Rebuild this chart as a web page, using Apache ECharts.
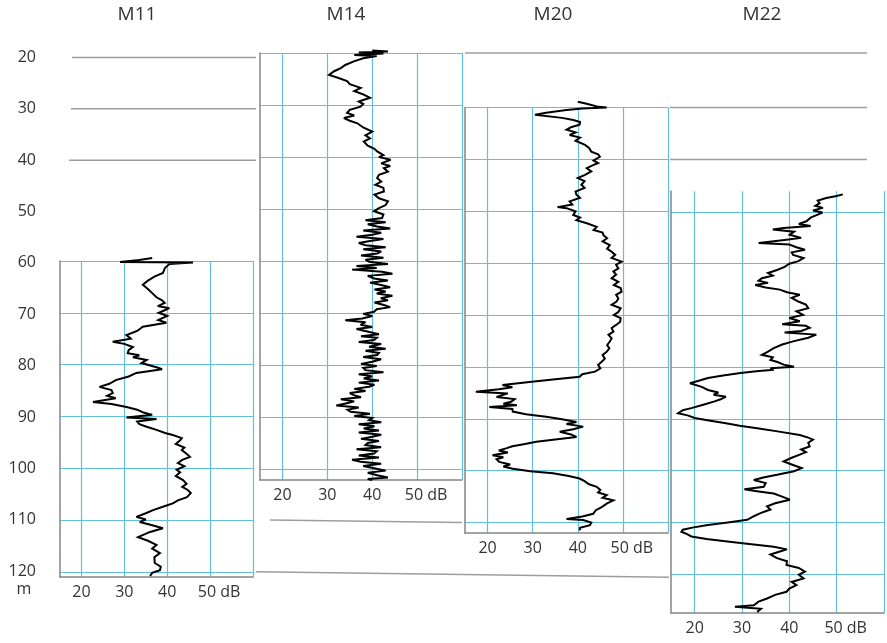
<!DOCTYPE html>
<html>
<head>
<meta charset="utf-8">
<script src="https://cdn.jsdelivr.net/npm/echarts@6/dist/echarts.min.js"></script>
<style>
  html, body { margin: 0; padding: 0; background: #fff; }
  #chart { width: 887px; height: 643px; }
</style>
</head>
<body>
<div id="chart"></div>
<script>
// Well names, in panel order
const wells = ['M11', 'M14', 'M20', 'M22'];

// Depth scale labels (m) of the shared left axis
const depthTicks = [20, 30, 40, 50, 60, 70, 80, 90, 100, 110, 120];

// Level scale (dB) tick labels under each panel
const levelTicks = [20, 30, 40, 50];

// Log readings per well: [depth m, level dB]
const m11Log = [
  [59.4,36.5],[59.8,33.5],[60.2,29.0],[60.3,46.0],[60.6,40.5],[61.3,39.5],[62.3,39.0],[63.0,37.0],
  [63.8,35.5],[64.6,34.3],[65.4,35.5],[66.2,36.5],[67.0,37.5],[67.6,38.8],[68.1,39.4],[68.7,37.8],
  [69.1,40.5],[69.5,39.4],[70.0,38.0],[70.6,40.0],[71.4,37.9],[71.9,39.8],[72.7,34.3],[73.5,33.0],
  [74.3,30.5],[75.0,31.5],[75.6,27.3],[76.0,30.0],[76.6,32.0],[77.2,31.0],[77.8,30.8],[78.2,33.5],
  [78.6,32.0],[79.1,35.2],[79.7,34.0],[80.5,37.5],[80.9,38.8],[81.6,32.8],[82.3,31.0],[83.0,28.0],
  [83.7,26.5],[84.3,24.2],[84.9,27.0],[85.5,27.3],[86.0,26.0],[86.5,28.0],[87.2,22.7],[87.6,27.0],
  [88.2,30.5],[88.7,33.0],[89.2,34.3],[89.7,36.5],[90.2,30.5],[90.5,37.5],[91.0,33.0],[91.5,33.5],
  [92.0,35.2],[92.6,37.5],[93.2,39.5],[93.6,41.3],[94.2,43.4],[94.6,43.0],[95.3,42.0],[96.0,44.0],
  [96.5,43.4],[97.2,44.5],[97.8,45.3],[98.4,43.5],[99.0,42.5],[99.6,44.0],[100.3,42.2],[100.8,43.0],
  [101.5,42.0],[102.3,43.7],[103.0,44.5],[103.6,43.5],[104.2,44.8],[104.8,45.5],[105.6,44.6],[106.2,42.5],
  [106.8,41.3],[107.3,39.5],[108.1,36.7],[108.7,35.0],[109.4,32.8],[109.9,35.0],[110.4,33.6],[111.0,36.5],
  [111.6,39.0],[112.3,36.0],[113.3,33.2],[114.0,35.5],[114.8,37.5],[115.5,36.5],[116.4,38.3],[117.2,37.0],
  [118.3,37.1],[119.0,38.5],[119.7,38.3],[120.2,36.5],[120.8,36.0]
];

const m14Log = [
  [19.5,40.0],[19.7,43.5],[19.9,37.0],[20.1,42.5],[20.4,36.0],[20.6,41.0],[21.0,38.0],[21.6,35.9],
  [22.3,34.0],[22.9,33.0],[23.5,31.5],[24.2,30.4],[24.8,32.5],[25.4,34.4],[26.0,35.0],[26.7,37.4],
  [27.3,36.0],[28.0,38.1],[28.6,39.5],[29.3,37.0],[29.8,38.0],[30.3,37.4],[30.9,35.0],[31.5,34.4],
  [32.0,36.0],[32.5,33.7],[33.0,35.0],[33.5,36.7],[34.3,38.0],[35.1,40.0],[35.8,38.5],[36.4,39.5],
  [37.0,38.1],[37.8,39.0],[38.4,40.5],[38.9,41.1],[39.6,42.5],[40.0,41.5],[40.5,44.1],[41.2,42.0],
  [41.7,44.0],[42.1,42.6],[42.8,43.5],[43.4,41.5],[44.0,41.1],[44.7,42.0],[45.3,40.7],[45.9,42.5],
  [46.6,42.6],[47.2,40.5],[47.9,41.5],[48.5,43.5],[49.2,43.0],[49.8,41.5],[50.4,40.4],[51.0,42.5],
  [51.7,42.2],[52.1,38.5],[52.5,43.0],[52.9,39.0],[53.3,41.1],[53.7,44.0],[54.1,38.0],[54.5,42.0],
  [54.9,40.0],[55.3,36.5],[55.7,42.5],[56.1,39.5],[56.5,37.0],[56.9,38.5],[57.3,43.0],[57.7,38.0],
  [58.1,42.0],[58.5,41.1],[58.9,37.5],[59.3,42.5],[59.7,38.5],[60.1,39.3],[60.5,43.5],[60.9,36.5],
  [61.3,41.0],[61.6,35.5],[62.0,42.2],[62.4,44.5],[62.8,39.0],[63.3,40.4],[63.7,43.5],[64.1,39.5],
  [64.6,42.2],[65.0,44.0],[65.4,40.5],[65.8,43.0],[66.2,41.0],[66.6,44.5],[67.1,41.9],[67.5,43.5],
  [67.9,40.5],[68.4,42.6],[68.8,44.0],[69.2,41.0],[69.7,40.4],[70.1,38.0],[70.5,40.0],[71.0,37.8],
  [71.3,34.0],[71.7,38.5],[72.2,37.4],[72.6,40.0],[73.0,36.5],[73.5,38.9],[74.0,41.5],[74.4,37.5],
  [74.7,41.0],[75.1,40.4],[75.5,37.0],[75.9,42.0],[76.4,39.3],[76.8,43.0],[77.2,38.5],[77.6,41.5],
  [78.0,41.1],[78.4,38.0],[78.8,42.0],[79.3,40.0],[79.7,37.5],[80.1,41.0],[80.5,38.0],[80.9,38.5],
  [81.3,42.5],[81.7,37.0],[82.1,40.0],[82.5,38.1],[82.9,41.5],[83.3,37.0],[83.7,40.5],[84.1,39.3],
  [84.5,36.0],[84.9,38.5],[85.3,35.0],[85.7,35.9],[86.1,37.5],[86.5,33.0],[86.9,36.0],[87.3,34.1],
  [87.7,32.0],[88.1,37.0],[88.5,34.5],[88.9,35.2],[89.3,39.5],[89.7,36.0],[90.1,40.0],[90.5,39.3],
  [90.9,42.0],[91.3,37.0],[91.7,40.5],[92.1,38.1],[92.5,41.5],[92.9,37.0],[93.3,42.0],[93.7,40.0],
  [94.1,37.5],[94.5,41.5],[94.9,39.0],[95.3,38.5],[95.7,42.0],[96.1,36.5],[96.5,41.0],[96.9,40.4],
  [97.3,37.0],[97.7,41.5],[98.1,35.5],[98.5,37.4],[98.9,42.0],[99.3,38.0],[99.8,40.7],[100.2,43.0],
  [100.6,39.0],[101.1,41.1],[101.5,43.5],[101.8,39.0],[102.0,40.0]
];

const m20Log = [
  [28.9,40.0],[29.2,41.5],[29.5,43.0],[29.8,44.2],[30.0,46.4],[30.2,41.0],[30.5,37.5],[31.0,33.0],
  [31.4,30.5],[31.7,30.8],[32.0,36.5],[32.4,39.0],[32.8,40.5],[33.3,40.4],[33.8,38.5],[34.3,37.5],
  [34.8,39.5],[35.3,38.2],[35.8,40.5],[36.4,39.5],[37.2,41.6],[37.8,42.5],[38.5,43.0],[39.0,44.5],
  [39.5,44.9],[40.2,43.5],[40.7,44.5],[41.1,43.4],[41.7,42.0],[42.3,43.0],[43.0,41.6],[43.6,40.0],
  [44.2,41.5],[44.9,40.8],[45.5,41.5],[46.2,39.5],[46.8,39.7],[47.4,40.5],[48.1,38.2],[48.7,38.8],
  [49.2,35.5],[49.4,37.5],[50.0,39.5],[50.7,39.0],[51.2,40.5],[51.7,39.7],[52.3,42.0],[53.0,44.2],
  [53.6,43.5],[54.1,45.5],[54.6,45.7],[55.2,46.5],[55.8,45.5],[56.5,47.1],[57.2,46.5],[57.8,47.5],
  [58.4,48.3],[59.0,47.5],[59.7,49.7],[60.3,48.5],[61.0,49.0],[61.6,47.9],[62.2,48.5],[62.9,47.5],
  [63.6,49.0],[64.2,48.0],[64.8,49.5],[65.5,49.7],[66.1,48.5],[66.8,49.0],[67.4,48.6],[68.0,47.5],
  [68.7,49.5],[69.4,49.0],[70.0,48.0],[70.6,49.5],[71.3,49.4],[71.9,48.5],[72.5,47.5],[73.2,47.9],
  [73.8,46.8],[74.5,47.5],[75.1,47.1],[75.8,46.5],[76.4,47.0],[77.1,46.4],[77.7,45.5],[78.4,46.0],
  [79.0,45.3],[79.6,44.5],[80.3,45.0],[80.9,43.8],[81.4,41.0],[81.9,40.4],[82.4,34.5],[82.9,29.3],
  [83.5,23.3],[83.9,25.5],[84.3,22.5],[84.8,17.4],[85.1,24.5],[85.4,24.1],[85.8,22.0],[86.2,26.0],
  [86.7,25.2],[87.1,23.5],[87.4,26.5],[87.7,20.4],[88.1,25.5],[88.6,25.6],[89.1,28.5],[89.6,33.0],
  [90.1,36.5],[90.6,39.7],[91.0,37.5],[91.5,41.2],[92.0,39.0],[92.5,36.0],[93.0,38.5],[93.5,39.7],
  [94.0,35.0],[94.4,30.8],[94.9,28.0],[95.3,25.5],[95.7,24.1],[96.1,22.5],[96.5,24.5],[97.0,21.1],
  [97.4,23.5],[97.8,22.0],[98.3,22.6],[98.8,25.0],[99.2,23.5],[99.6,25.6],[100.1,29.5],[100.5,34.5],
  [101.0,38.0],[101.5,40.4],[102.0,41.5],[102.6,42.5],[103.1,44.2],[103.7,45.0],[104.2,44.5],[104.7,46.4],
  [105.2,45.5],[105.7,47.9],[106.3,46.5],[107.0,45.3],[107.6,44.0],[108.3,43.4],[108.8,41.0],[109.3,37.5],
  [109.5,41.2],[110.0,43.0],[110.5,42.7],[111.0,40.5],[111.5,40.4]
];

const m22Log = [
  [46.6,51.3],[46.9,50.0],[47.3,47.8],[47.8,46.0],[48.3,46.4],[48.8,45.5],[49.2,47.1],[49.7,45.0],
  [50.1,47.0],[50.5,46.0],[51.1,44.5],[51.8,43.6],[52.3,42.0],[52.7,44.5],[53.1,38.8],[53.4,36.5],
  [53.8,41.0],[54.4,40.1],[55.0,42.5],[55.4,39.0],[55.7,38.8],[56.0,33.5],[56.3,40.0],[56.8,41.5],
  [57.3,43.3],[57.8,40.5],[58.3,40.8],[58.9,43.0],[59.5,41.9],[60.0,40.0],[60.6,39.0],[61.2,37.4],
  [61.8,35.5],[62.3,36.5],[62.8,34.2],[63.3,33.5],[63.7,35.5],[64.1,32.8],[64.6,35.0],[65.0,38.0],
  [65.5,39.5],[66.0,42.2],[66.6,40.5],[67.3,41.9],[67.9,43.5],[68.6,44.0],[69.2,41.5],[69.9,42.9],
  [70.5,40.0],[71.1,42.2],[71.7,38.5],[72.0,43.5],[72.4,44.3],[73.0,42.5],[73.3,39.0],[73.7,45.7],
  [74.3,44.0],[75.0,40.8],[75.6,38.5],[76.3,36.7],[77.0,35.5],[77.6,34.2],[78.1,36.5],[78.6,36.0],
  [79.0,37.5],[79.5,38.8],[79.9,41.0],[80.2,36.0],[80.5,36.7],[80.8,33.0],[81.1,29.7],[81.6,26.0],
  [82.1,22.8],[82.7,20.5],[83.1,19.0],[83.4,19.3],[83.8,21.5],[84.4,22.8],[84.9,25.0],[85.3,24.0],
  [85.7,26.6],[86.2,25.5],[86.6,24.2],[87.2,22.0],[87.9,19.3],[88.3,17.5],[88.9,16.5],[89.3,18.5],
  [89.8,20.0],[90.3,23.0],[90.8,26.3],[91.3,29.5],[91.8,33.2],[92.4,37.5],[93.1,42.2],[93.6,44.0],
  [94.0,45.0],[94.6,44.0],[95.3,44.3],[95.9,42.5],[96.4,43.5],[96.9,42.2],[97.5,40.5],[98.2,38.8],
  [98.8,40.5],[99.5,42.6],[100.1,41.0],[100.8,37.4],[101.3,34.5],[101.8,32.5],[102.4,35.0],[103.1,34.6],
  [103.6,30.5],[104.0,33.5],[104.4,36.7],[105.0,38.5],[105.6,40.1],[106.3,37.0],[106.9,35.3],[107.5,36.0],
  [108.2,33.9],[108.8,32.5],[109.5,31.1],[110.0,27.0],[110.5,22.8],[111.0,19.5],[111.4,17.5],[111.8,17.2],
  [112.3,18.5],[112.7,19.3],[113.2,22.5],[113.7,26.9],[114.2,32.0],[114.7,36.7],[115.2,39.5],[115.6,38.0],
  [116.2,36.0],[116.9,37.4],[117.5,39.5],[118.2,39.4],[118.8,42.0],[119.5,43.3],[120.1,42.0],[120.8,43.0],
  [121.5,40.5],[122.1,41.5],[122.8,40.0],[123.4,39.4],[124.0,37.0],[124.7,35.3],[125.3,33.5],[126.0,32.5],
  [126.3,28.5],[126.7,34.0],[127.3,33.2]
];

const logs = [m11Log, m14Log, m20Log, m22Log];

// Depth window shown by each panel
const panelDepthMin = [60, 20, 30, 46];
const panelDepthMax = [121, 102, 112, 127.5];

const FONT = '"Open Sans", "Noto Sans", sans-serif';
const TEXT = '#333';
const CYAN = '#62c1d8';
const FRAME = '#858585';
const LINK = '#9d9d9d';
const NONE = 'rgba(0,0,0,0)';

// Panel boxes on the page
const panelBoxes = [
  { left: 60,  top: 261,   width: 193, height: 316 },
  { left: 260, top: 53,    width: 202, height: 427 },
  { left: 465, top: 107.5, width: 203, height: 425.5 },
  { left: 671, top: 191.3, width: 216, height: 421.7 }
];
const titleCentres = [137, 346, 553, 762];

const grids = [{ left: 44, top: 57.5, width: 1, height: 513.5 }].concat(panelBoxes);

const xAxes = [{
  gridIndex: 0, type: 'value', min: 0, max: 1, show: false
}];
const yAxes = [{
  gridIndex: 0, type: 'value', inverse: true, min: depthTicks[0], max: depthTicks[depthTicks.length - 1],
  interval: 10,
  axisLine: { show: false }, axisTick: { show: false }, splitLine: { show: false },
  axisLabel: { show: true, color: TEXT, fontSize: 16, fontFamily: FONT, margin: 8,
    formatter: v => depthTicks.indexOf(v) >= 0 ? String(v) : '' }
}];

wells.forEach((w, i) => {
  const g = i + 1;
  xAxes.push({
    gridIndex: g, type: 'value', min: 15, max: 60, interval: 5,
    axisLine: { show: true, onZero: false, lineStyle: { color: FRAME, width: 1.5 } },
    axisTick: { show: false },
    axisLabel: {
      color: TEXT, fontSize: 16, fontFamily: FONT, margin: 7,
      formatter: v => {
        if (levelTicks.indexOf(v) < 0) return '';
        return v === levelTicks[levelTicks.length - 1] ? '{u|' + v + ' dB}' : String(v);
      },
      rich: { u: { color: TEXT, fontSize: 16, fontFamily: FONT, padding: [0, 0, 0, 18] } }
    },
    splitLine: { show: true, lineStyle: { color: [NONE, CYAN], width: 1.2 } }
  });
  const isLast = i === 3;
  yAxes.push({
    gridIndex: g, type: 'value', inverse: true,
    min: panelDepthMin[i], max: panelDepthMax[i], interval: isLast ? 2 : 10,
    axisLine: { show: true, onZero: false, lineStyle: { color: FRAME, width: 1.5 } },
    axisTick: { show: false }, axisLabel: { show: false },
    splitLine: {
      show: true, showMaxLine: false,
      lineStyle: { color: isLast ? [NONE, NONE, CYAN, NONE, NONE] : [CYAN], width: 1.2 }
    }
  });
});

const series = logs.map((log, i) => ({
  name: wells[i], type: 'line', xAxisIndex: i + 1, yAxisIndex: i + 1,
  data: log.map(p => [p[1], p[0]]),
  showSymbol: false, symbol: 'none', clip: false, animation: false,
  lineStyle: { color: '#000', width: 2, join: 'miter', miterLimit: 3 }, z: 5
}));

const titleGraphics = wells.map((w, i) => ({
  type: 'text', x: titleCentres[i], y: 15,
  style: { text: w, fill: TEXT, font: '19px ' + FONT, textAlign: 'center', textVerticalAlign: 'middle' }
}));

const chart = echarts.init(document.getElementById('chart'), null, { renderer: 'canvas' });
chart.setOption({
  animation: false,
  backgroundColor: '#fff',
  grid: grids,
  xAxis: xAxes,
  yAxis: yAxes,
  series: series,
  graphic: titleGraphics
});

// Depth → page y on a given y axis
const yOn = (axis, d) => chart.convertToPixel({ yAxisIndex: axis }, d);
const xOn = (axis, v) => chart.convertToPixel({ xAxisIndex: axis }, v);

// Correlation lines joining equal depths between the panels
const leftStart = 72;
const m14Left = xOn(2, 15), m14Right = xOn(2, 60);
const m20Right = xOn(3, 60);
const m11Right = xOn(1, 60);
const m22Left = xOn(4, 15);
const farRight = 867;
const seg = (x1, y1, x2, y2) => ({
  type: 'line', z: 1, silent: true,
  shape: { x1: x1, y1: y1, x2: x2, y2: y2 },
  style: { stroke: LINK, lineWidth: 1.5 }
});
const links = [
  seg(leftStart, yOn(0, 20), m14Left - 4, yOn(0, 20)),
  seg(leftStart - 1, yOn(0, 30), m14Left - 4, yOn(0, 30)),
  seg(leftStart - 3, yOn(0, 40), m14Left - 4, yOn(0, 40)),
  seg(m14Right + 3, yOn(2, 20), farRight, yOn(2, 20)),
  seg(m20Right + 2, yOn(3, 30), farRight, yOn(3, 30)),
  seg(m20Right + 2, yOn(3, 40), farRight, yOn(3, 40)),
  seg(m14Left + 10, yOn(1, 110), m14Right, yOn(3, 110)),
  seg(m11Right + 3, yOn(1, 120), m22Left - 2, yOn(4, 120) + 3)
];

chart.setOption({
  graphic: titleGraphics.concat(links, [{
    type: 'text', x: 24, y: 589,
    style: { text: 'm', fill: TEXT, font: '16px ' + FONT, textAlign: 'center', textVerticalAlign: 'middle' }
  }])
});
</script>
</body>
</html>
